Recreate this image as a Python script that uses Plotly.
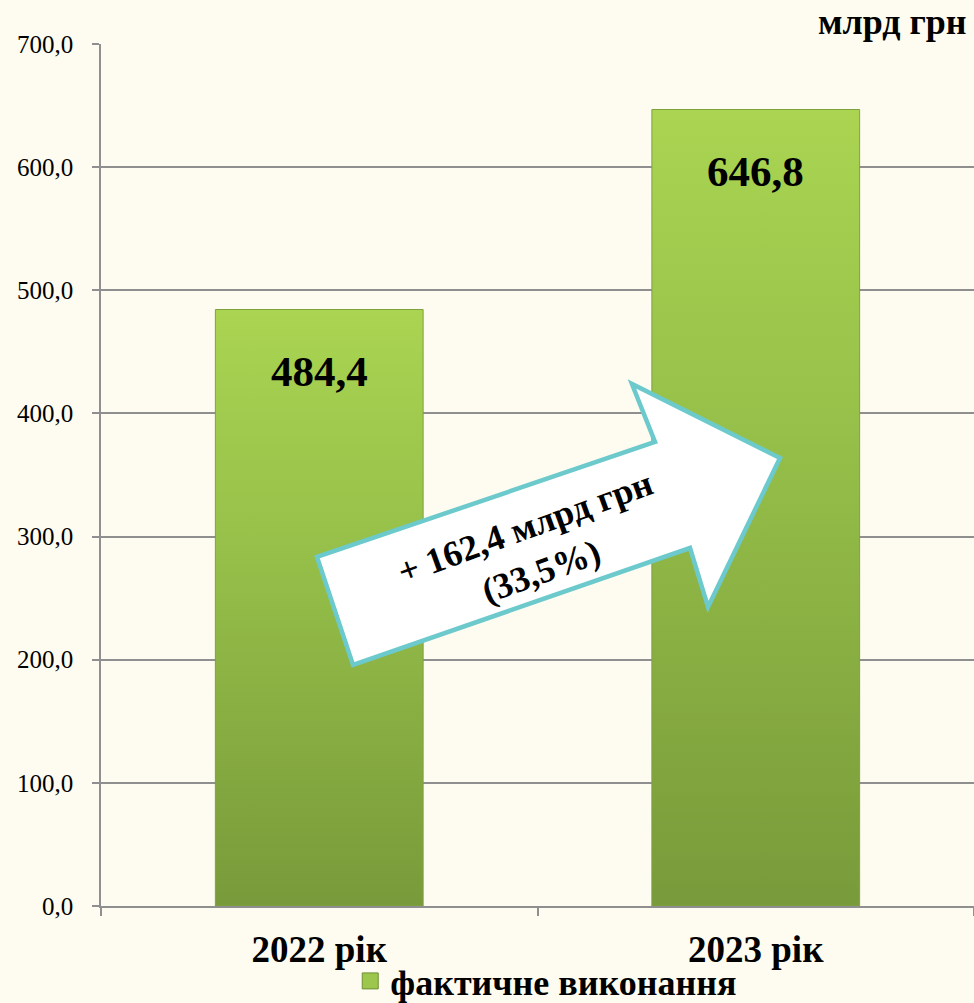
import plotly.graph_objects as go

# values (млрд грн)
categories = ["2022 рік", "2023 рік"]
values = [484.4, 646.8]
value_labels = ["484,4", "646,8"]
series_name = "фактичне виконання"
y_ticks = [0, 100, 200, 300, 400, 500, 600, 700]
y_tick_labels = ["0,0", "100,0", "200,0", "300,0", "400,0", "500,0", "600,0", "700,0"]
change_label = "+ 162,4 млрд грн<br>(33,5%)"
unit_label = "млрд грн"

FONT = "Liberation Serif"
BG = "#fefcf0"
GRID = "#8f8f8f"
BAR_DARK = "#799a3a"
BAR_LIGHT = "#aad451"
ARROW_EDGE = "#6cc9cc"
HALF_W = 0.238

# pixel geometry of the plot area (page 974x1003)
W, H = 974, 1003
L, R, T, B = 101, 0, 44, 97
PW, PH = W - L - R, H - T - B


def px(x, y):
    # page pixels -> paper coordinates
    return (x - L) / PW, (H - B - y) / PH


fig = go.Figure()

for i, v in enumerate(values):
    fig.add_trace(
        go.Scatter(
            x=[i - HALF_W, i + HALF_W, i + HALF_W, i - HALF_W, i - HALF_W],
            y=[0, 0, v, v, 0],
            mode="lines",
            fill="toself",
            fillgradient=dict(
                type="vertical",
                colorscale=[[0, BAR_DARK], [0.6, "#96c049"], [1, BAR_LIGHT]],
            ),
            line=dict(color="#80a23e", width=1),
            name=series_name,
            showlegend=False,
            hovertemplate=categories[i] + ": " + value_labels[i] + "<extra></extra>",
        )
    )

# legend entry
fig.add_trace(
    go.Scatter(
        x=[None],
        y=[None],
        mode="markers",
        name=series_name,
        marker=dict(symbol="square", size=20, color="#9cc64c",
                    line=dict(color="#6f8f33", width=1)),
    )
)

for i, v in enumerate(values):
    fig.add_annotation(
        x=i, y=v, xref="x", yref="y",
        text="<b>" + value_labels[i] + "</b>",
        showarrow=False, yanchor="middle", yshift=-62,
        font=dict(family=FONT, size=43, color="black"),
    )

# growth arrow (decoration, page pixels)
arrow_px = [(317, 557), (655, 442), (632, 384), (780, 458),
            (708, 607), (690, 548), (353, 665)]
path = ""
for k, (ax, ay) in enumerate(arrow_px):
    qx, qy = px(ax, ay)
    path += ("M" if k == 0 else "L") + f"{qx:.4f},{qy:.4f} "
path += "Z"
fig.add_shape(
    type="path", path=path, xref="paper", yref="paper",
    fillcolor="white", line=dict(color=ARROW_EDGE, width=4.5), layer="above",
)
cx, cy = px(533, 549)
fig.add_annotation(
    x=cx, y=cy, xref="paper", yref="paper",
    text="<b>" + change_label + "</b>", showarrow=False, textangle=-20,
    font=dict(family=FONT, size=36, color="black"),
)

ux, uy = px(969, 22)
fig.add_annotation(
    x=ux, y=uy, xref="paper", yref="paper", xanchor="right", yanchor="middle",
    text="<b>" + unit_label + "</b>", showarrow=False,
    font=dict(family=FONT, size=36, color="black"),
)

fig.update_layout(
    width=W,
    height=H,
    margin=dict(l=L, r=R, t=T, b=B, pad=0, autoexpand=False),
    paper_bgcolor=BG,
    plot_bgcolor=BG,
    showlegend=True,
    legend=dict(
        orientation="h", x=0.51, xanchor="center", y=px(0, 1011)[1], yanchor="bottom",
        font=dict(family=FONT, size=36, color="black", weight="bold"),
        bgcolor="rgba(0,0,0,0)", itemwidth=30, borderwidth=0,
    ),
    font=dict(family=FONT, color="black"),
)
fig.update_xaxes(
    range=[-0.5, 1.5],
    tickvals=[0, 1],
    ticktext=["<b>" + c + "</b>" for c in categories],
    tickfont=dict(family=FONT, size=37, color="black"),
    ticks="",
    showgrid=False,
    zeroline=False,
    showline=True,
    linecolor=GRID,
    linewidth=1.5,
    ticklabelstandoff=10,
    automargin=False,
    minor=dict(tickvals=[-0.5, 0.5, 1.5], ticks="outside", ticklen=8,
               tickcolor=GRID, tickwidth=1.5, showgrid=False),
    fixedrange=True,
)
fig.update_yaxes(
    range=[0, 700],
    tickvals=y_ticks,
    ticktext=y_tick_labels,
    tickfont=dict(family=FONT, size=25, color="black"),
    ticks="outside",
    ticklen=7,
    tickcolor=GRID,
    tickwidth=1.5,
    showgrid=True,
    gridcolor=GRID,
    gridwidth=1.5,
    zeroline=False,
    showline=True,
    linecolor=GRID,
    linewidth=1.5,
    ticklabelstandoff=14,
    automargin=False,
    fixedrange=True,
)

# drop the default 8px page margin so the figure sits at the window origin
fig.write_html(
    "out.html",
    config={"displayModeBar": False},
    post_script="document.body.style.margin='0';document.body.style.background='" + BG + "';",
)
